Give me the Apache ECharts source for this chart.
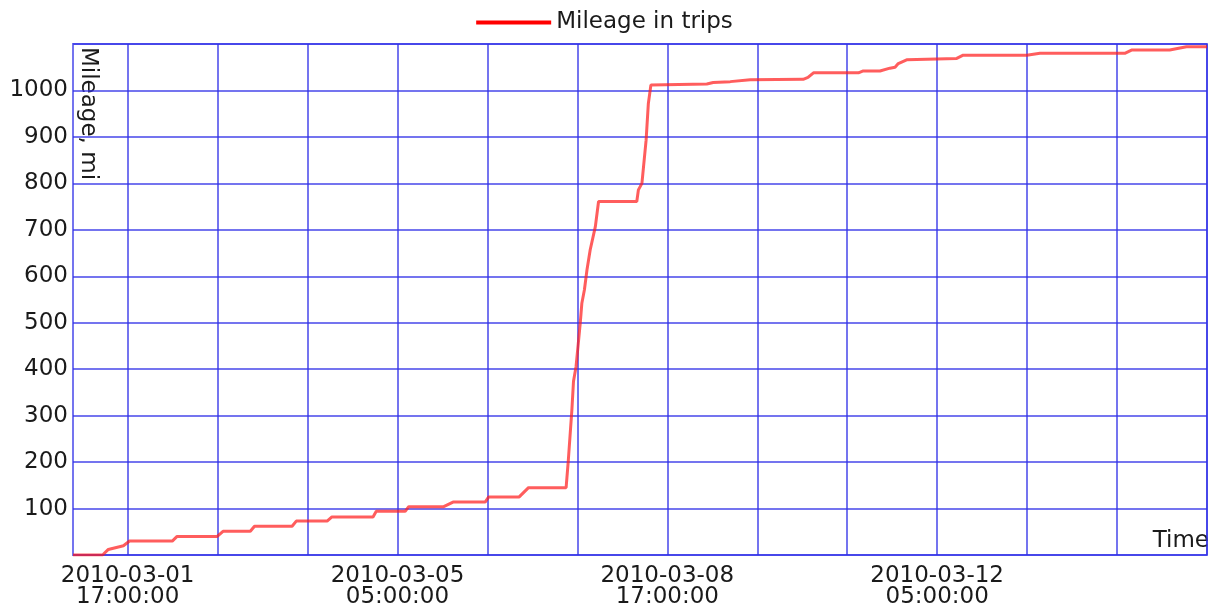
<!DOCTYPE html>
<html>
<head>
<meta charset="utf-8">
<script src="https://cdn.jsdelivr.net/npm/echarts@6/dist/echarts.min.js"></script>
<style>html,body{margin:0;padding:0;background:#fff}#chart{width:1209px;height:610px}</style>
</head>
<body>
<div id="chart"></div>
<script>
// Hours since 2010-03-01 00:00:00
var tripHours = [0, 9.2, 11.0, 15.7, 17.6, 30.9, 32.4, 44.9, 46.7, 55.2, 56.5, 68.2, 69.5, 79.1, 80.6, 93.4, 94.4, 103.4, 104.5, 115.4, 118.3, 128.3, 129.4, 138.9, 141.8, 153.5, 154.2, 155.3, 155.8, 156.6, 157.9, 158.4, 158.8, 159.2, 160.0, 161.0, 162.6, 163.6, 175.5, 176.0, 177.1, 178.4, 179.1, 179.9, 180.3, 197.3, 199.3, 204.6, 210.8, 227.3, 228.8, 230.5, 244.5, 246.0, 251.2, 254.3, 255.9, 256.9, 259.5, 260.0, 275.1, 277.1, 296.9, 301.0, 327.4, 329.5, 341.4, 346.6, 353];
var tripMileage = [0, 0, 12, 20, 30, 30, 40, 40, 51, 51, 62, 62, 73, 73, 82, 82, 94, 94, 104, 104, 114, 114, 125, 125, 145, 145, 205, 313, 374, 406, 499, 542, 543, 571, 614, 657, 707, 761, 761, 786, 800, 893, 972, 1012, 1014, 1014, 1017, 1019, 1023, 1024, 1028, 1038, 1038, 1042, 1042, 1048, 1050, 1058, 1066, 1069, 1069, 1076, 1076, 1080, 1080, 1087, 1087, 1094, 1094];
var gridHours = [17, 45, 73, 101, 129, 157, 185, 213, 241, 269, 297, 325, 353];
var labelHours = [17, 101, 185, 269];
var yLabels = [100, 200, 300, 400, 500, 600, 700, 800, 900, 1000];
var seriesName = 'Mileage in trips';

var baseMs = Date.UTC(2010, 2, 1, 0, 0, 0);
function pad(n) { return (n < 10 ? '0' : '') + n; }
function fmtHours(h) {
  var d = new Date(baseMs + Math.round(h * 3600000));
  return d.getUTCFullYear() + '-' + pad(d.getUTCMonth() + 1) + '-' + pad(d.getUTCDate()) +
    '\n' + pad(d.getUTCHours()) + ':' + pad(d.getUTCMinutes()) + ':' + pad(d.getUTCSeconds());
}

var data = tripHours.map(function (h, i) { return [h, tripMileage[i]]; });
var gridColor = 'rgba(50,50,232,0.68)';
var textColor = '#1a1a1a';
var font = 'DejaVu Sans';
var fs = 23;

var chart = echarts.init(document.getElementById('chart'), null, { renderer: 'canvas' });
chart.setOption({
  animation: false,
  backgroundColor: '#fff',
  textStyle: { fontFamily: font },
  legend: {
    top: 6,
    left: 'center',
    icon: 'rect',
    itemWidth: 75,
    itemHeight: 4,
    itemGap: 10,
    textStyle: { fontFamily: font, fontSize: fs, color: textColor },
    data: [{ name: seriesName, itemStyle: { color: '#ff0000' } }]
  },
  grid: {
    left: 73, right: 2, top: 44, bottom: 55,
    show: true, borderColor: gridColor, borderWidth: 2, containLabel: false
  },
  xAxis: {
    type: 'value',
    min: 0, max: 353,
    axisLine: { show: false },
    axisTick: { show: false, customValues: gridHours },
    splitLine: { show: true, lineStyle: { color: gridColor, width: 2 } },
    axisLabel: {
      customValues: labelHours,
      formatter: fmtHours,
      fontFamily: font, fontSize: fs, color: textColor,
      lineHeight: 21, margin: 11, align: 'center'
    }
  },
  yAxis: {
    type: 'value',
    min: 0, max: 1100, interval: 100,
    axisLine: { show: false },
    axisTick: { show: false },
    splitLine: { show: true, lineStyle: { color: gridColor, width: 2 } },
    axisLabel: {
      customValues: yLabels,
      formatter: function (v) { return String(v); },
      fontFamily: font, fontSize: fs, color: textColor, margin: 5
    }
  },
  graphic: [
    {
      type: 'text', x: 88, y: 47, rotation: -Math.PI / 2,
      style: { text: 'Mileage, mi', fontFamily: font, fontSize: fs, fill: textColor, textAlign: 'left', textVerticalAlign: 'middle' }
    },
    {
      type: 'text', x: 1209, y: 541,
      style: { text: 'Time', fontFamily: font, fontSize: fs, fill: textColor, textAlign: 'right', textVerticalAlign: 'middle' }
    }
  ],
  series: [{
    name: seriesName,
    type: 'line',
    data: data,
    showSymbol: false,
    lineStyle: { color: 'rgba(255,30,30,0.72)', width: 3 },
    itemStyle: { color: '#ff0000' },
    clip: true
  }]
});
</script>
</body>
</html>
